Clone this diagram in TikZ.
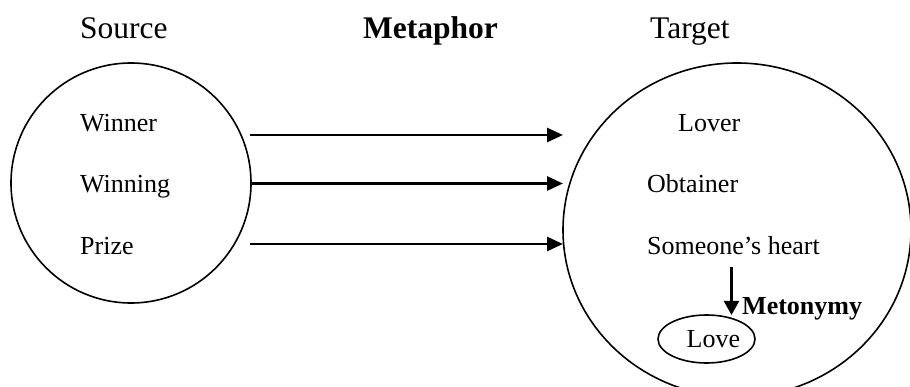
\documentclass[tikz,border=0pt]{standalone}
\usepackage{fontspec}
\setmainfont{Liberation Serif}
\usetikzlibrary{arrows.meta,shapes.geometric}
\begin{document}
\begin{tikzpicture}[x=1pt,y=-1pt,
  big/.style={font=\fontsize{31.5}{36}\selectfont, anchor=base west, inner sep=0pt},
  item/.style={font=\fontsize{26}{30}\selectfont, anchor=base west, inner sep=0pt},
  domainshape/.style={draw, line width=1.6pt},
  maparrow/.style={line width=2.8pt, -{Triangle[length=16pt,width=14pt]}},
  metarrow/.style={line width=2.2pt, -{Triangle[length=14pt,width=15pt]}}]
\useasboundingbox (0,0) rectangle (910,387);
% domains
\node[domainshape, circle, minimum size=240pt, inner sep=0pt] (src) at (131,183) {};
\node[domainshape, ellipse, minimum width=348pt, minimum height=334pt, inner sep=0pt] (tgt) at (737,230) {};
\node[domainshape, ellipse, minimum width=97pt, minimum height=48pt, inner sep=0pt] (loveov) at (706.5,339) {};
% headings
\node[big] (source) at (80,39) {Source};
\node[big, font=\fontsize{31.5}{36}\selectfont\bfseries] (metaphor) at (363,39) {Metaphor};
\node[big] (target) at (650,39) {Target};
% items
\node[item] (winner) at (80,132) {Winner};
\node[item] (winning) at (80,193) {Winning};
\node[item] (prize) at (80,255) {Prize};
\node[item] (lover) at (678,132) {Lover};
\node[item] (obtainer) at (647,193) {Obtainer};
\node[item] (heart) at (647,255) {Someone’s heart};
\node[item] (love) at (686.5,347) {Love};
\node[item, font=\fontsize{26}{30}\selectfont\bfseries] (metonymy) at (742,315) {Metonymy};
% connector ends
\coordinate (a1s) at (250,135);  \coordinate (a1e) at (563,135);
\coordinate (a2s) at (250,183.5);\coordinate (a2e) at (563,183.5);
\coordinate (a3s) at (250,244);  \coordinate (a3e) at (563,244);
\coordinate (ms) at (731.5,267); \coordinate (me) at (731.5,315);
\draw[maparrow] (a1s) -- (a1e);
\draw[maparrow] (a2s) -- (a2e);
\draw[maparrow] (a3s) -- (a3e);
\draw[metarrow] (ms) -- (me);
\end{tikzpicture}
\end{document}
